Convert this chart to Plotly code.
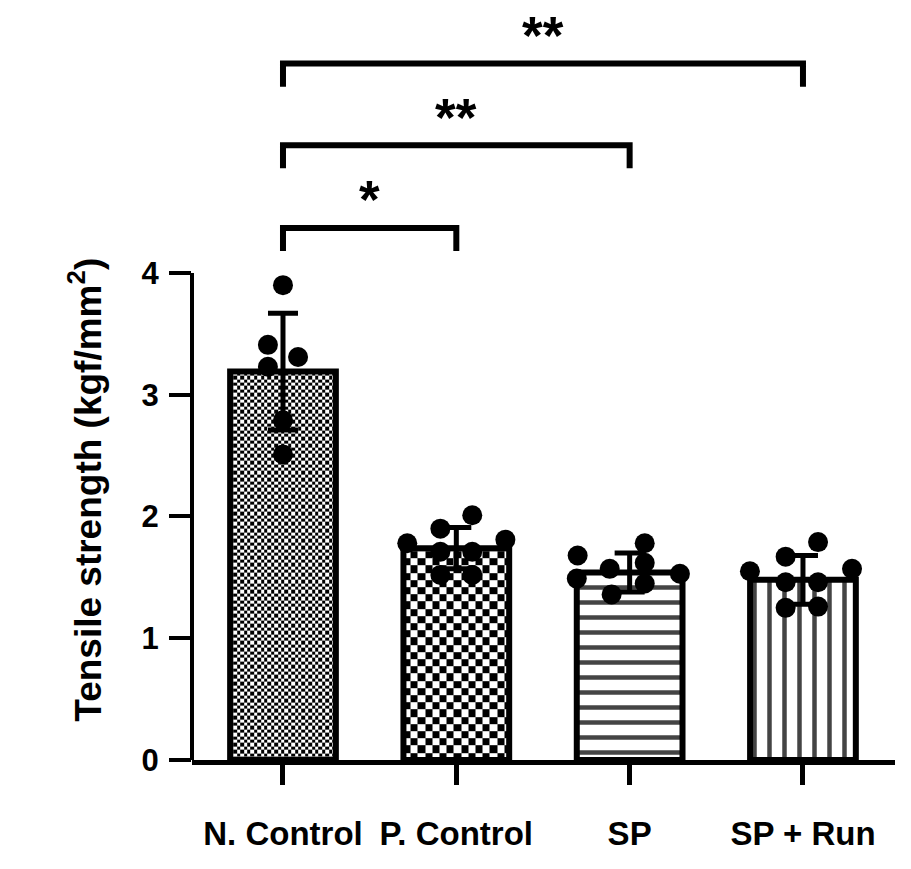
import numpy as np
import plotly.graph_objects as go

# data
groups = ["N. Control", "P. Control", "SP", "SP + Run"]
means = [3.19, 1.74, 1.54, 1.48]
sds = [0.48, 0.17, 0.16, 0.20]

n_control = [3.90, 3.41, 3.31, 3.23, 2.79, 2.51]
p_control = [2.01, 1.90, 1.78, 1.81, 1.71, 1.71, 1.52, 1.52]
sp = [1.68, 1.78, 1.57, 1.62, 1.53, 1.49, 1.45, 1.36]
sp_run = [1.79, 1.67, 1.55, 1.57, 1.46, 1.46, 1.25, 1.26]
points = [n_control, p_control, sp, sp_run]

# horizontal scatter of the dots, in category units
n_jitter = [0, -0.087, 0.087, -0.087, 0, 0]
p_jitter = [0.092, -0.092, -0.283, 0.283, -0.092, 0.092, -0.092, 0.092]
sp_jitter = [-0.30, 0.087, -0.115, 0.087, 0.29, -0.305, 0.087, -0.104]
sp_run_jitter = [0.087, -0.10, -0.306, 0.283, -0.10, 0.087, -0.10, 0.087]
jitters = [n_jitter, p_jitter, sp_jitter, sp_run_jitter]

# significance brackets: (group a, group b, label, height)
comparisons = [(0, 1, "*", 4.37), (0, 2, "**", 5.05), (0, 3, "**", 5.72)]

W, H = 911, 869
ML, MR, MT, MB = 192, 16, 10, 109
x_range = [-0.525, 3.531]
y_range = [0, 6.16]
bar_w = 0.61
FONT = "Liberation Sans, Arial, sans-serif"

px_x = (W - ML - MR) / (x_range[1] - x_range[0])
px_y = (H - MT - MB) / (y_range[1] - y_range[0])

fig = go.Figure()

# checkerboard fills for the two control bars
checker_px = [3.4, 7.2]
for i, cell in enumerate(checker_px):
    x0, x1 = i - bar_w / 2, i + bar_w / 2
    dx, dy = cell / px_x, cell / px_y
    xe = np.append(np.arange(x0, x1 - dx * 0.3, dx), x1)
    ye = np.append(np.arange(0, means[i] - dy * 0.3, dy), means[i])
    ix, iy = np.meshgrid(np.arange(len(xe) - 1), np.arange(len(ye) - 1))
    z = (ix + iy) % 2
    fig.add_trace(go.Heatmap(
        x=xe, y=ye, z=z,
        colorscale=[[0, "white"], [1, "black"]],
        zmin=0, zmax=1, showscale=False, zsmooth=False,
        hoverinfo="skip",
    ))

fig.add_trace(go.Bar(
    x=list(range(len(groups))),
    y=means,
    width=bar_w,
    marker=dict(
        color=["rgba(0,0,0,0)", "rgba(0,0,0,0)", "white", "white"],
        line=dict(color="black", width=6),
        pattern=dict(
            shape=["", "", "-", "|"],
            fgcolor="black", bgcolor="white", fgopacity=1,
            size=15, solidity=0.3,
        ),
    ),
    error_y=dict(type="data", array=sds, color="black", thickness=5, width=15),
))

# individual values
xs, ys = [], []
for i, (vals, jit) in enumerate(zip(points, jitters)):
    xs += [i + j for j in jit]
    ys += vals
fig.add_trace(go.Scatter(
    x=xs, y=ys, mode="markers",
    marker=dict(color="black", size=20),
    cliponaxis=False,
))

# brackets
bx, by = [], []
drop = 0.19
for a, b, label, h in comparisons:
    bx += [a, a, b, b, None]
    by += [h - drop, h, h, h - drop, None]
    fig.add_annotation(
        x=(a + b) / 2, y=h, text=label, showarrow=False,
        yanchor="middle", yshift=28,
        font=dict(family=FONT, size=53, color="black", weight=700),
    )
fig.add_trace(go.Scatter(
    x=bx, y=by, mode="lines",
    line=dict(color="black", width=6),
    hoverinfo="skip",
))

# y axis line only from 0 to 4
fig.add_shape(type="line", xref="paper", yref="y", x0=0, x1=0, y0=0, y1=4,
              line=dict(color="black", width=4))

fig.add_annotation(
    xref="paper", yref="y", x=(86 - ML) / (W - ML - MR), y=2.22,
    xanchor="center", yanchor="middle",
    text="Tensile strength (kgf/mm<sup>2</sup>)", textangle=-90,
    showarrow=False,
    font=dict(family=FONT, size=37, color="black", weight=700),
)

fig.update_layout(
    width=W, height=H,
    margin=dict(l=ML, r=MR, t=MT, b=MB),
    plot_bgcolor="white", paper_bgcolor="white",
    showlegend=False,
    font=dict(family=FONT, color="black"),
    xaxis=dict(
        range=x_range, tickvals=list(range(len(groups))), ticktext=groups,
        showline=True, linecolor="black", linewidth=5,
        ticks="outside", ticklen=20, tickwidth=5, tickcolor="black",
        tickfont=dict(family=FONT, size=33, weight=700),
        ticklabelstandoff=20,
        showgrid=False, zeroline=False,
    ),
    yaxis=dict(
        range=y_range, tickvals=[0, 1, 2, 3, 4],
        showline=False,
        ticks="outside", ticklen=22, tickwidth=4, tickcolor="black",
        tickfont=dict(family=FONT, size=31, weight=700),
        ticklabelstandoff=4,
        showgrid=False, zeroline=False,
    ),
)

# drop the default 8px page margin so the figure fills the window
fig.write_html(
    "out.html",
    config={"displayModeBar": False},
    post_script="document.body.style.margin = '0';",
)
